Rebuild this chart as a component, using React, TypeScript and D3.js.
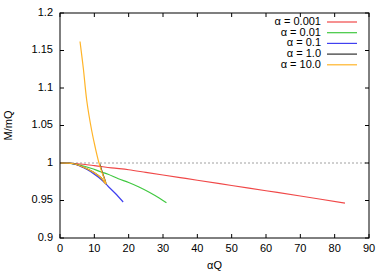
import React from 'react';
import * as d3 from 'd3';

// x ticks / y ticks
const xTicks = [0, 10, 20, 30, 40, 50, 60, 70, 80, 90];
const yTicks = [0.9, 0.95, 1.0, 1.05, 1.1, 1.15, 1.2];
const yTickLabels = ['0.9', '0.95', '1', '1.05', '1.1', '1.15', '1.2'];

// series: [αQ, M/mQ]
const alpha0001: [number, number][] = [
    [0, 1.0], [5, 0.999], [10, 0.9965], [15, 0.9935], [20, 0.991], [25, 0.9875],
    [30, 0.984], [35, 0.9805], [40, 0.977], [50, 0.970], [60, 0.963], [70, 0.956], [83, 0.9465],
];
const alpha001: [number, number][] = [
    [0, 1.0], [3, 0.9995], [6, 0.997], [9, 0.993], [12, 0.988], [14, 0.985], [17, 0.979],
    [20, 0.974], [23, 0.968], [26, 0.961], [29, 0.953], [31, 0.947],
];
const alpha01: [number, number][] = [
    [0, 1.0], [2, 0.9998], [4, 0.9988], [6, 0.9955], [8, 0.991], [10, 0.985], [12, 0.978],
    [14, 0.969], [16, 0.960], [18.4, 0.948],
];
const alpha1: [number, number][] = [
    [0, 1.0], [2, 0.9998], [4, 0.999], [6, 0.996], [8, 0.992], [10, 0.987], [12, 0.980],
    [13.4, 0.972], [12.5, 0.985], [11.55, 0.999],
];
const alpha10: [number, number][] = [
    [0, 1.0], [2, 0.9998], [4, 0.999], [6, 0.996], [8, 0.992], [10, 0.987], [12, 0.980],
    [13.4, 0.972], [12.4, 0.985], [11.36, 1.0], [10.3, 1.02], [9.2, 1.044], [7.8, 1.083],
    [6.8, 1.126], [5.83, 1.162],
];

const seriesLabels = ['α = 0.001', 'α = 0.01', 'α = 0.1', 'α = 1.0', 'α = 10.0'];
const seriesData = [alpha0001, alpha001, alpha01, alpha1, alpha10];
const seriesColors = ['#f04848', '#40c840', '#4040f0', '#303030', '#ffb428'];

const width = 389;
const height = 273;
const margin = { left: 60, right: 20, top: 13, bottom: 35 };
const font = '"Liberation Sans", Arial, sans-serif';

const App: React.FC = () => {
    const x = d3.scaleLinear().domain([0, 90]).range([margin.left, width - margin.right]);
    const y = d3.scaleLinear().domain([0.9, 1.2]).range([height - margin.bottom, margin.top]);

    const line = d3.line<[number, number]>()
        .x(d => x(d[0]))
        .y(d => y(d[1]))
        .curve(d3.curveCatmullRom.alpha(0.5));

    const x0 = x(0), x1 = x(90), y0 = y(0.9), y1 = y(1.2);
    const tl = 4;

    return (
        <svg width={width} height={height} style={{ position: 'absolute', left: 0, top: 0, background: '#fff' }}
            fontFamily={font} fontSize={11}>
            {/* dashed reference line at 1 */}
            <line x1={x0} x2={x1} y1={y(1)} y2={y(1)} stroke="#a0a0a0" strokeWidth={1} strokeDasharray="2,2" />

            {/* ticks on all four sides */}
            {xTicks.map(t => (
                <g key={'xt' + t}>
                    <line x1={x(t)} x2={x(t)} y1={y0} y2={y0 - tl} stroke="#000" />
                    <line x1={x(t)} x2={x(t)} y1={y1} y2={y1 + tl} stroke="#000" />
                    <text x={x(t)} y={y0 + 14} textAnchor="middle">{t}</text>
                </g>
            ))}
            {yTicks.map((t, i) => (
                <g key={'yt' + t}>
                    <line x1={x0} x2={x0 + tl} y1={y(t)} y2={y(t)} stroke="#000" />
                    <line x1={x1} x2={x1 - tl} y1={y(t)} y2={y(t)} stroke="#000" />
                    <text x={x0 - 7} y={y(t)} textAnchor="end" dominantBaseline="middle">{yTickLabels[i]}</text>
                </g>
            ))}

            {/* series */}
            {seriesData.map((d, i) => (
                <path key={'s' + i} d={line(d) || ''} fill="none" stroke={seriesColors[i]} strokeWidth={1.2} />
            ))}

            {/* frame */}
            <rect x={x0} y={y1} width={x1 - x0} height={y0 - y1} fill="none" stroke="#000" strokeWidth={1} />

            {/* legend */}
            {seriesLabels.map((s, i) => {
                const ly = 22 + i * 10.7;
                return (
                    <g key={'lg' + i}>
                        <text x={321} y={ly} textAnchor="end" dominantBaseline="middle">{s}</text>
                        <line x1={327} x2={357} y1={ly} y2={ly} stroke={seriesColors[i]} strokeWidth={1.2} />
                    </g>
                );
            })}

            {/* axis labels */}
            <text x={(x0 + x1) / 2} y={269} textAnchor="middle">αQ</text>
            <text transform={`translate(12, ${(y0 + y1) / 2}) rotate(-90)`} textAnchor="middle">M/mQ</text>
        </svg>
    );
};

export default App;
